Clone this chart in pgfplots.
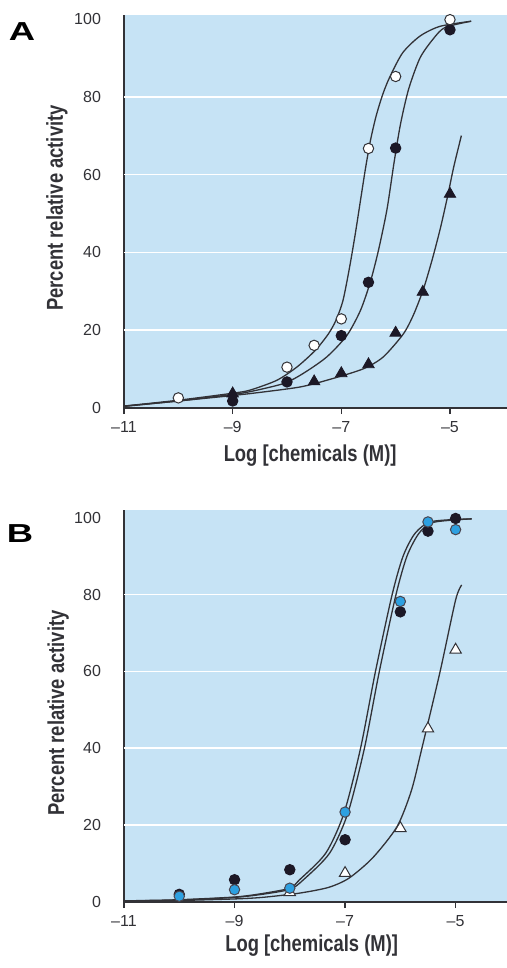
\documentclass[border=0pt]{standalone}
\usepackage{pgfplots}
\pgfplotsset{compat=1.18}
\usepackage{fontspec}
\setmainfont{Liberation Sans}
\newfontfamily\labelfont{Liberation Sans}[FakeStretch=0.8]

\definecolor{bgblue}{RGB}{198,227,245}
\definecolor{ink}{RGB}{50,50,55}
\definecolor{dotblue}{RGB}{45,160,225}
\definecolor{dotdark}{RGB}{28,24,38}

\pgfplotsset{
  panel/.style={
    scale only axis,
    width=191.5pt,
    xmin=-11,
    ymin=0,
    axis background/.style={fill=bgblue},
    axis x line*=bottom,
    axis y line*=left,
    axis line style={-, draw=ink, line width=0.6pt},
    xtick={-11,-9,-7,-5},
    xticklabels={--11,--9,--7,--5},
    ytick={0,20,40,60,80,100},
    yticklabels={0,20,40,60,80,100},
    extra y ticks={20,40,60,80},
    extra y tick labels={},
    extra y tick style={grid=major, major tick length=0pt},
    grid style={white, line width=0.8pt},
    tick align=outside,
    major tick length=3pt,
    xtick style={draw=ink, line width=0.6pt},
    ytick style={draw=none},
    ticklabel style={font=\fontsize{8}{9}\selectfont, text=ink},
    yticklabel style={xshift=-5pt},
    label style={font=\labelfont\bfseries\fontsize{11.5}{13}\selectfont, text=ink},
    xlabel={Log [chemicals (M)]},
    ylabel={Percent relative activity},
    clip=false,
  },
  curve/.style={draw=ink, line width=0.65pt, smooth, tension=0.45, no marks},
  opencirc/.style={only marks, mark=*, mark size=2.6pt, mark options={fill=white, draw=ink, line width=0.5pt}},
  darkcirc/.style={only marks, mark=*, mark size=2.6pt, mark options={fill=dotdark, draw=dotdark, line width=0.5pt}},
  bluecirc/.style={only marks, mark=*, mark size=2.6pt, mark options={fill=dotblue, draw=dotdark!80, line width=0.5pt}},
  darktri/.style={only marks, mark=triangle*, mark size=3.3pt, mark options={fill=dotdark, draw=dotdark, line width=0.4pt}},
  opentri/.style={only marks, mark=triangle*, mark size=3.3pt, mark options={fill=white, draw=ink, line width=0.5pt}},
}

\begin{document}
\begin{tikzpicture}[x=1pt,y=1pt]
\path[use as bounding box] (0,0) rectangle (253.5,-484);

% ---------- panel A ----------
\node[font=\bfseries\fontsize{13}{14}\selectfont, text=black] at (11,-16) {\scalebox{1.4}[1]{A}};
\begin{axis}[panel,
  at={(62pt,-204pt)}, anchor=south west,
  height=196.5pt, xmax=-3.95, ymax=101,
  xlabel style={at={(axis description cs:0.486,-0.12)}, anchor=center},
  ylabel style={at={(axis description cs:-0.175,0.509)}, anchor=center, rotate=0},
]
% fitted curves
\addplot[curve] coordinates {
  (-11,0.5) (-10,2.0) (-9,3.8) (-8.68,4.6) (-8.19,7.1) (-7.82,10.5) (-7.48,14.8)
  (-7.24,19) (-7.1,22.5) (-6.97,27.6) (-6.85,36) (-6.74,45) (-6.64,54)
  (-6.55,62) (-6.46,69) (-6.36,75) (-6.24,80.5) (-6.11,85) (-5.87,91.3)
  (-5.55,95.6) (-5.18,98.1) (-4.61,99.4)
};
\addplot[curve] coordinates {
  (-11,0.5) (-10,1.8) (-9,3.5) (-8.68,4.2) (-8.06,6.3) (-7.70,8.9) (-7.27,13.1)
  (-6.90,18.6) (-6.65,25) (-6.47,32.2) (-6.32,40.3) (-6.16,51) (-6.03,63)
  (-5.91,73) (-5.76,82) (-5.55,90) (-5.30,95) (-5.09,97.8) (-4.61,99.4)
};
\addplot[curve] coordinates {
  (-11,0.4) (-10,1.8) (-9,3.2) (-8.68,3.7) (-7.76,5.4) (-7.15,7.6) (-6.59,10.1)
  (-6.23,13.1) (-5.86,19) (-5.67,24) (-5.49,30.5) (-5.33,38) (-5.18,46)
  (-5.05,54) (-4.93,62) (-4.79,70)
};
% data points
\addplot[darktri] coordinates {
  (-9,3.7) (-7.5,6.8) (-7,8.9) (-6.5,11.2) (-6,19.3) (-5.5,29.8) (-5,55)
};
\addplot[darkcirc] coordinates {
  (-9,1.8) (-8,6.7) (-7,18.6) (-6.5,32.3) (-6,66.8) (-5,97.2)
};
\addplot[opencirc] coordinates {
  (-10,2.6) (-8,10.5) (-7.5,16.1) (-7,22.9) (-6.5,66.7) (-6,85.2) (-5,99.8)
};
\end{axis}

% ---------- panel B ----------
\node[font=\bfseries\fontsize{13}{14}\selectfont, text=black] at (10,-267) {\scalebox{1.4}[1]{B}};
\begin{axis}[panel,
  at={(62pt,-451pt)}, anchor=south west,
  height=196pt, xmax=-4.07, ymax=102,
  xlabel style={at={(axis description cs:0.49,-0.11)}, anchor=center},
  ylabel style={at={(axis description cs:-0.172,0.482)}, anchor=center, rotate=0},
]
% fitted curves
\addplot[curve] coordinates {
  (-11,0.3) (-10,0.6) (-9,1.3) (-8.5,2.2) (-8,3.6) (-7.83,5.7) (-7.35,12.7)
  (-7.02,23.1) (-6.72,40) (-6.45,60) (-6.15,79.9) (-5.95,90) (-5.73,96)
  (-5.43,99) (-4.71,99.7)
};
\addplot[curve] coordinates {
  (-11,0.3) (-10,0.5) (-9,1.2) (-8.5,2.0) (-8,3.3) (-7.76,5.7) (-7.28,12.7)
  (-6.95,23.1) (-6.65,40) (-6.38,60) (-6.08,79.9) (-5.88,90) (-5.66,96)
  (-5.40,98.8) (-4.71,99.7)
};
\addplot[curve] coordinates {
  (-11,0.2) (-10,0.4) (-9,0.8) (-8.5,1.2) (-7.83,2.3) (-7.3,3.8) (-6.93,6.2)
  (-6.5,11.5) (-6.06,19.6) (-5.8,29) (-5.61,40) (-5.28,60) (-5.0,78.6) (-4.89,82.5)
};
% data points
\addplot[opentri] coordinates {
  (-8,2.5) (-7,7.5) (-6,19.2) (-5.5,45.1) (-5,65.6)
};
\addplot[darkcirc] coordinates {
  (-10,2.0) (-9,5.8) (-8,8.4) (-7,16.2) (-6,75.5) (-5.5,96.5) (-5,99.8)
};
\addplot[bluecirc] coordinates {
  (-10,1.5) (-9,3.2) (-8,3.6) (-7,23.4) (-6,78.2) (-5.5,98.9) (-5,96.9)
};
\end{axis}
\end{tikzpicture}
\end{document}
